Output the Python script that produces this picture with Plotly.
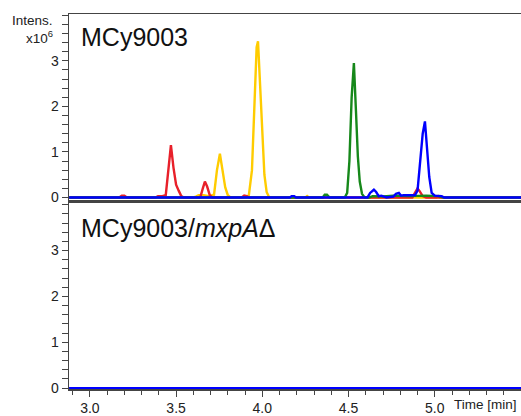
import plotly.graph_objects as go

# ---- data (time in min, intensity in 10^6) ----
red_t = [2.88, 3.17, 3.185, 3.20, 3.215, 3.38, 3.395, 3.42, 3.44, 3.455, 3.47, 3.485, 3.50, 3.515, 3.53, 3.545,
         3.64, 3.655, 3.667, 3.68, 3.695, 3.71, 3.88, 3.895, 3.91, 3.925, 4.87, 4.885, 4.90, 4.912, 4.93, 4.95, 5.5]
red_i = [0, 0, 0.04, 0.04, 0, 0, 0.03, 0.03, 0.05, 0.55, 1.15, 0.65, 0.28, 0.15, 0.03, 0,
         0, 0.2, 0.35, 0.24, 0.05, 0, 0, 0.04, 0.03, 0, 0, 0.1, 0.2, 0.14, 0.03, 0, 0]

yellow_t = [2.88, 3.60, 3.615, 3.63, 3.66, 3.69, 3.72, 3.737, 3.754, 3.77, 3.785, 3.80, 3.815,
            3.905, 3.922, 3.94, 3.955, 3.967, 3.975, 3.985, 4.0, 4.012, 4.025, 4.04,
            4.25, 4.26, 4.27, 5.01, 5.02, 5.03, 5.5]
yellow_i = [0, 0, 0.02, 0.05, 0.05, 0.03, 0.06, 0.6, 0.96, 0.6, 0.22, 0.05, 0,
            0, 0.05, 0.6, 2.2, 3.3, 3.43, 2.6, 1.4, 0.5, 0.12, 0,
            0, 0.03, 0, 0, 0.03, 0, 0]

green_t = [2.88, 4.35, 4.362, 4.375, 4.39, 4.478, 4.492, 4.505, 4.518, 4.531, 4.543, 4.554, 4.565, 4.578, 4.593,
           4.62, 4.64, 4.70, 4.76, 4.85, 4.95, 5.02, 5.05, 5.5]
green_i = [0, 0, 0.06, 0.06, 0, 0, 0.1, 0.8, 2.2, 2.95, 1.9, 0.9, 0.35, 0.08, 0,
           0, 0.03, 0.02, 0.04, 0.03, 0.04, 0.03, 0, 0]

blue_t = [2.88, 4.16, 4.17, 4.185, 4.195, 4.61, 4.625, 4.647, 4.66, 4.675, 4.69, 4.70, 4.72,
          4.76, 4.775, 4.792, 4.805, 4.82, 4.86, 4.885, 4.90, 4.915, 4.93, 4.943, 4.956, 4.968, 4.982,
          5.0, 5.04, 5.055, 5.5]
blue_i = [0, 0, 0.03, 0.03, 0, 0, 0.1, 0.17, 0.12, 0.03, 0.04, 0.03, 0,
          0.02, 0.08, 0.1, 0.04, 0.05, 0.05, 0.05, 0.15, 0.7, 1.4, 1.67, 1.1, 0.45, 0.1,
          0.04, 0.03, 0, 0]

# mutant: flat traces
mut_t = [2.88, 5.5]
mut_red = [0, 0]
mut_yellow = [0, 0]
mut_green = [0, 0]
mut_blue = [0, 0]

x_ticks = [3.0, 3.5, 4.0, 4.5, 5.0]
y_ticks = [0, 1, 2, 3]

RED = "#e8202a"
YEL = "#ffcc00"
GRN = "#16881a"
BLU = "#0000ff"
FONT = "Liberation Sans, Arial, sans-serif"
AX = "#444444"

fig = go.Figure()
for t, v, c in [(yellow_t, yellow_i, YEL), (red_t, red_i, RED), (green_t, green_i, GRN), (blue_t, blue_i, BLU)]:
    fig.add_trace(go.Scatter(x=t, y=v, mode="lines", line=dict(color=c, width=2.4),
                             xaxis="x", yaxis="y", showlegend=False, hoverinfo="skip"))
for v, c in [(mut_yellow, YEL), (mut_red, RED), (mut_green, GRN), (mut_blue, BLU)]:
    fig.add_trace(go.Scatter(x=mut_t, y=v, mode="lines", line=dict(color=c, width=2),
                             xaxis="x2", yaxis="y2", showlegend=False, hoverinfo="skip"))

yax = dict(showline=True, linecolor=AX, linewidth=1.5, ticks="outside", ticklen=6, tickwidth=1,
           tickcolor=AX, tickvals=y_ticks, showgrid=False, zeroline=False,
           tickfont=dict(family=FONT, size=14, color="#222"),
           minor=dict(dtick=0.2, tick0=0, ticks="outside", ticklen=6, tickcolor=AX, showgrid=False))

fig.update_layout(
    width=521, height=416,
    margin=dict(l=69, r=0, t=14, b=22),
    paper_bgcolor="white", plot_bgcolor="white",
    font=dict(family=FONT, color="#222"),
    hovermode=False,
    xaxis=dict(domain=[0, 1], range=[2.879, 5.5], anchor="y", showline=True, mirror=True,
               linecolor=AX, linewidth=1.5, ticks="", showticklabels=False, showgrid=False, zeroline=False),
    yaxis=dict(domain=[0.503, 1], range=[-0.064, 4.03], anchor="x", **yax),
    xaxis2=dict(domain=[0, 1], range=[2.879, 5.5], anchor="y2", showline=True, mirror=True,
                linecolor=AX, linewidth=1.5, ticks="outside", ticklen=6, tickcolor=AX,
                tickvals=x_ticks, tickformat=".1f", showgrid=False, zeroline=False,
                tickfont=dict(family=FONT, size=14, color="#222"),
                minor=dict(dtick=0.1, tick0=3.0, ticks="outside", ticklen=4, tickcolor=AX, showgrid=False)),
    yaxis2=dict(domain=[0, 0.495], range=[-0.02, 4.03], anchor="x2", **yax),
    annotations=[
        dict(text="Intens.", xref="paper", yref="paper", x=-0.03, y=0.984, xanchor="right", yanchor="middle",
             showarrow=False, font=dict(family=FONT, size=13.5, color="#222")),
        dict(text="x10<sup>6</sup>", xref="paper", yref="paper", x=-0.03, y=0.938, xanchor="right", yanchor="middle",
             showarrow=False, font=dict(family=FONT, size=13.5, color="#222")),
        dict(text="MCy9003", xref="paper", yref="paper", x=0.022, y=0.94, xanchor="left", yanchor="middle",
             showarrow=False, font=dict(family=FONT, size=25, color="#111")),
        dict(text="MCy9003/<i>mxpA</i>Δ", xref="paper", yref="paper", x=0.022, y=0.43, xanchor="left", yanchor="middle",
             showarrow=False, font=dict(family=FONT, size=25, color="#111")),
        dict(text="Time [min]", xref="paper", yref="paper", x=0.847, y=-0.042, xanchor="left", yanchor="middle",
             showarrow=False, font=dict(family=FONT, size=13.5, color="#222")),
    ],
)

# remove the default page margin so the figure sits at the window's top-left corner
fig.write_html("out.html", config={"displayModeBar": False, "staticPlot": True},
               post_script="document.body.style.margin='0';")
